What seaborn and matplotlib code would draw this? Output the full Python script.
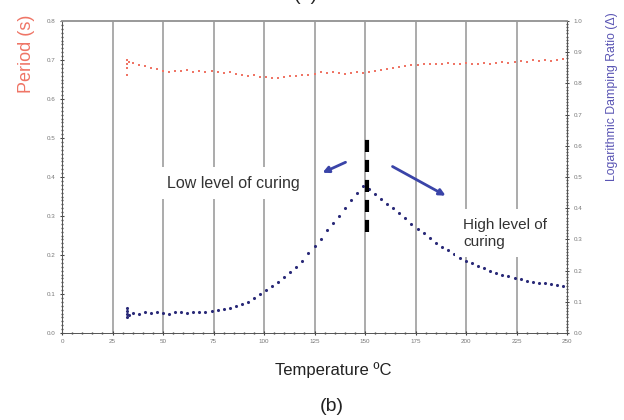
import matplotlib
matplotlib.use("Agg")
import matplotlib.pyplot as plt
import numpy as np
import pandas as pd
import seaborn as sns
from matplotlib.ticker import MultipleLocator, FormatStrFormatter

# temperature (deg C) of each reading; the first few repeat at the start of the run
temps = [32, 32, 32, 33,
         32, 35, 38, 41, 44, 47, 50, 53, 56, 59, 62, 65, 68, 71, 74, 77, 80, 83, 86, 89,
         92, 95, 98, 101, 104, 107, 110, 113, 116, 119, 122, 125, 128, 131, 134, 137,
         140, 143, 146, 149, 152, 155, 158, 161, 164, 167, 170, 173, 176, 179, 182, 185,
         188, 191, 194, 197, 200, 203, 206, 209, 212, 215, 218, 221, 224, 227, 230, 233,
         236, 239, 242, 245, 248]

period = [0.700, 0.680, 0.662, 0.694,
          0.690, 0.692, 0.686, 0.684, 0.680, 0.676, 0.671, 0.670, 0.673, 0.671, 0.674,
          0.670, 0.673, 0.669, 0.671, 0.670, 0.667, 0.668, 0.664, 0.662, 0.660, 0.661,
          0.657, 0.656, 0.654, 0.655, 0.656, 0.658, 0.659, 0.662, 0.661, 0.665, 0.668,
          0.666, 0.670, 0.667, 0.664, 0.667, 0.669, 0.666, 0.670, 0.673, 0.675, 0.677,
          0.679, 0.682, 0.684, 0.686, 0.688, 0.690, 0.689, 0.691, 0.690, 0.692, 0.690,
          0.691, 0.693, 0.689, 0.691, 0.692, 0.690, 0.692, 0.694, 0.692, 0.695, 0.697,
          0.694, 0.699, 0.697, 0.700, 0.698, 0.701, 0.703]

damping = [0.080, 0.050, 0.070, 0.058,
           0.062, 0.065, 0.060, 0.066, 0.063, 0.067, 0.064, 0.060, 0.066, 0.068, 0.063,
           0.067, 0.069, 0.066, 0.070, 0.073, 0.076, 0.080, 0.086, 0.093, 0.101, 0.112,
           0.124, 0.138, 0.150, 0.163, 0.180, 0.196, 0.212, 0.232, 0.255, 0.278, 0.300,
           0.330, 0.352, 0.375, 0.400, 0.425, 0.448, 0.470, 0.462, 0.445, 0.430, 0.415,
           0.400, 0.385, 0.368, 0.350, 0.335, 0.320, 0.305, 0.290, 0.275, 0.265, 0.252,
           0.242, 0.232, 0.223, 0.215, 0.207, 0.200, 0.193, 0.187, 0.182, 0.178, 0.172,
           0.168, 0.165, 0.162, 0.160, 0.158, 0.155, 0.152]

x_ticks = [0, 25, 50, 75, 100, 125, 150, 175, 200, 225, 250]

RED = "#ef7566"
NAVY = "#2a2a78"
ARROW = "#3a44a8"
PURPLE = "#5a55b4"
TICK = "#777777"

df = pd.DataFrame({"temperature": temps, "period": period, "damping": damping})

sns.set_style("white")
plt.rcParams["font.family"] = ["Liberation Sans", "DejaVu Sans"]

fig = plt.figure(figsize=(6.24, 4.2), dpi=100)
ax = fig.add_axes([0.0994, 0.207, 0.8093, 0.743])
ax2 = ax.twinx()

sns.scatterplot(data=df, x="temperature", y="period", ax=ax, color=RED,
                marker="s", s=4.5, linewidth=0, legend=False)
sns.scatterplot(data=df, x="temperature", y="damping", ax=ax2, color=NAVY,
                marker="o", s=5, linewidth=0, legend=False)

ax.set_xlim(0, 250)
ax.set_ylim(0, 0.8)
ax2.set_ylim(0, 1.0)
ax.set_xlabel("")
ax.set_ylabel("")
ax2.set_ylabel("")

ax.set_xticks(x_ticks)
ax.xaxis.set_minor_locator(MultipleLocator(5))
ax.yaxis.set_major_locator(MultipleLocator(0.1))
ax.yaxis.set_minor_locator(MultipleLocator(0.01))
ax.yaxis.set_major_formatter(FormatStrFormatter("%.1f"))
ax2.yaxis.set_major_locator(MultipleLocator(0.1))
ax2.yaxis.set_minor_locator(MultipleLocator(0.01))
ax2.yaxis.set_major_formatter(FormatStrFormatter("%.1f"))

for a in (ax, ax2):
    a.tick_params(which="major", length=3, width=0.8, color="#444444", direction="inout",
                  labelsize=4.5, labelcolor=TICK, pad=3)
    a.tick_params(which="minor", length=2, width=1.0, color="#444444", direction="inout")
ax.tick_params(axis="x", which="both", bottom=True)
ax.tick_params(axis="y", which="both", left=True)
ax2.tick_params(axis="y", which="both", right=True)

# vertical grid only
ax.grid(False)
ax2.grid(False)
for xv in x_ticks[1:-1]:
    ax.axvline(xv, color="#ababab", lw=1.4, zorder=0)

for a in (ax, ax2):
    a.spines["top"].set_color("#999999")
    a.spines["top"].set_linewidth(1.2)
    for side in ("left", "right", "bottom"):
        a.spines[side].set_color("#555555")
        a.spines[side].set_linewidth(0.6)

# cure transition marker and annotations (damping axis coordinates)
ax2.plot([151, 151], [0.325, 0.625], color="black", lw=3, linestyle=(0, (2.9, 1.9)),
         solid_capstyle="butt")
ax2.annotate("", xy=(127.7, 0.510), xytext=(141.6, 0.551),
             arrowprops=dict(arrowstyle="-|>", color=ARROW, lw=2, mutation_scale=9))
ax2.annotate("", xy=(191.1, 0.436), xytext=(162.4, 0.538),
             arrowprops=dict(arrowstyle="-|>", color=ARROW, lw=2, mutation_scale=9))
ax2.text(84.7, 0.48, "Low level of curing", ha="center", va="center", fontsize=11.5,
         color="#333333", bbox=dict(facecolor="white", edgecolor="none", pad=6))
ax2.text(198.5, 0.32, "High level of\ncuring", ha="left", va="center", fontsize=11,
         color="#333333", linespacing=1.3,
         bbox=dict(facecolor="white", edgecolor="none", pad=6))

fig.text(0.042, 0.871, "Period (s)", rotation=90, ha="center", va="center",
         fontsize=13, color=RED)
fig.text(0.981, 0.771, "Logarithmic Damping Ratio (\u0394)", rotation=90, ha="center",
         va="center", fontsize=8.8, color=PURPLE)
fig.text(0.534, 0.119, "Temperature \u00baC", ha="center", va="center", fontsize=12,
         color="#222222")
fig.text(0.532, 0.033, "(b)", ha="center", va="center", fontsize=14, color="#222222")
fig.text(0.49, 1.01, "(a)", ha="center", va="center", fontsize=14, color="#222222")

fig.savefig("out.png", dpi=100)
